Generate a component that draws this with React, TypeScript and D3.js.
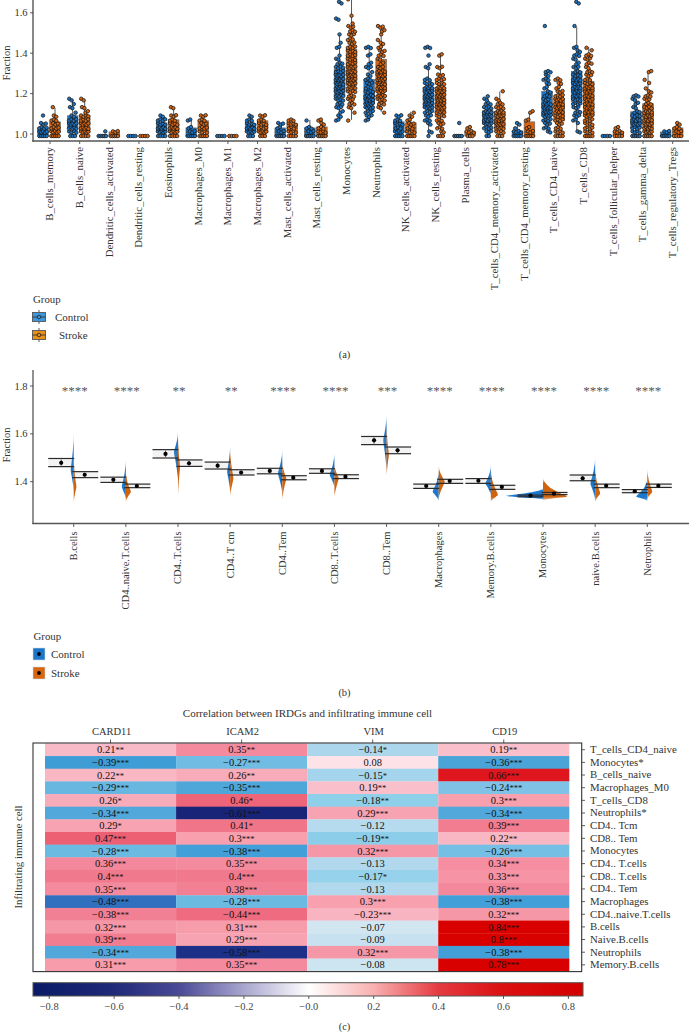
import React from "react";
import * as d3 from "d3";

const FONT = "'Liberation Serif', serif";
const INK = "#333";

// ---------- panel (a) ----------
const cellTypesA = ["B_cells_memory","B_cells_naive","Dendritic_cells_activated","Dendritic_cells_resting","Eosinophils","Macrophages_M0","Macrophages_M1","Macrophages_M2","Mast_cells_activated","Mast_cells_resting","Monocytes","Neutrophils","NK_cells_activated","NK_cells_resting","Plasma_cells","T_cells_CD4_memory_activated","T_cells_CD4_memory_resting","T_cells_CD4_naive","T_cells_CD8","T_cells_follicular_helper","T_cells_gamma_delta","T_cells_regulatory_Tregs"];
const ticksA = [1.0, 1.2, 1.4, 1.6];
const binStart = 0.99;
const binStep = 0.02;
// number of samples seen in each 0.02-wide level, starting at 0.99
const controlCounts: number[][] = [
  [5,5,4,3,0,1],
  [3,4,5,5,4,2,1,2,1,2],
  [5,1],
  [4],
  [4,5,5,4,4,2],
  [5,3,2,0,2],
  [4],
  [3,5,5,4,3,2],
  [5,3,2,3],
  [5,3,3,0,1],
  [0,0,0,0,2,2,2,3,3,4,5,5,6,6,6,5,4,4,3,2,1,0,2,1,0,1,0,0,0,2,0,0,0,2],
  [0,0,0,0,2,3,4,5,6,6,5,4,3,3,3,2,1,3,2,0,2,0,3],
  [5,5,3,4,3,3],
  [1,2,0,2,3,3,4,5,6,6,6,5,5,4,3,0,0,2,1,0,1,0,3],
  [5,0,0,1],
  [2,3,4,5,5,6,5,4,3,2,1],
  [5,4,1,2],
  [0,2,3,3,4,5,6,6,5,3,3,2,2,2,3,2,3,0,0,0,0,0,0,0,0,0,0,1],
  [0,2,0,1,2,3,3,3,4,4,5,5,5,5,5,4,3,3,2,2,3,2,2,0,0,0,0,1,0,0,0,0,0,2],
  [4],
  [5,4,4,5,5,4,3,2,2,2,3],
  [5,3],
];
const strokeCounts: number[][] = [
  [5,5,4,3,3,2,0,1],
  [4,5,5,5,4,4,2,2,0,2],
  [5,3],
  [4],
  [4,5,5,4,3,3,0,2],
  [5,4,4,3,3,3],
  [4],
  [3,5,4,4,3,3],
  [4,4,3,4,3],
  [5,4,3,2,2],
  [0,0,0,0,1,0,1,2,3,3,3,4,5,5,6,6,5,5,4,4,4,4,4,3,3,3,3,3,1,0,1,0,0,0,1],
  [0,0,0,0,0,0,1,2,3,4,5,5,5,6,6,5,5,3,2,2,3,3,2,2,1,1,2,3],
  [5,4,3,3,2,2,1],
  [3,2,3,3,3,4,5,5,6,6,6,5,5,4,4,3,0,3,0,0,2],
  [3,4,2],
  [3,4,5,6,6,5,5,4,3,2,0,1],
  [5,3,2,0,2,0,2],
  [4,4,3,3,4,4,5,5,5,5,4,3,2,2,3],
  [5,4,4,4,4,5,5,5,5,5,5,5,5,4,3,3,3,2,3,3,3,1,1],
  [4,4,2],
  [5,5,5,5,5,5,5,4,3,3,3,2,1,1,1,0,2],
  [4,3,3,2],
];

// ---------- panel (b) ----------
const cellTypesB = ["B.cells","CD4..naive.T.cells","CD4..T.cells","CD4..T cm","CD4..Tem","CD8..T.cells","CD8..Tem","Macrophages","Memory.B.cells","Monocytes","naive.B.cells","Netrophils"];
const signif = ["****","****","**","**","****","****","***","****","****","****","****","****"];
const ticksB = [1.4, 1.6, 1.8];
const ctlHi = [1.497,1.419,1.534,1.482,1.456,1.454,1.589,1.390,1.413,1.344,1.428,1.367];
const ctlLo = [1.463,1.397,1.499,1.453,1.433,1.435,1.555,1.372,1.393,1.337,1.404,1.354];
const ctlMean = [1.479,1.408,1.516,1.467,1.445,1.445,1.573,1.382,1.404,1.342,1.414,1.360];
const strHi = [1.442,1.390,1.491,1.450,1.425,1.429,1.545,1.410,1.385,1.355,1.390,1.390];
const strLo = [1.417,1.375,1.464,1.428,1.408,1.413,1.517,1.393,1.368,1.346,1.375,1.376];
const strMean = [1.429,1.382,1.477,1.438,1.417,1.421,1.531,1.403,1.378,1.350,1.383,1.383];
const ctlTop = [1.605,1.493,1.613,1.553,1.535,1.521,1.686,1.446,1.470,1.372,1.502,1.410];
const ctlPeak = [1.449,1.379,1.525,1.442,1.435,1.428,1.574,1.358,1.393,1.340,1.393,1.337];
const ctlBottom = [1.358,1.326,1.407,1.358,1.351,1.376,1.442,1.319,1.344,1.326,1.323,1.319];
const ctlDensity = [3,4,4,3,4.3,4.7,3.3,6,5.3,38,4.7,11];
const strTop = [1.504,1.442,1.595,1.543,1.486,1.477,1.644,1.470,1.449,1.413,1.456,1.453];
const strPeak = [1.379,1.358,1.463,1.414,1.414,1.414,1.511,1.400,1.344,1.337,1.351,1.358];
const strBottom = [1.312,1.316,1.340,1.337,1.326,1.337,1.424,1.330,1.316,1.323,1.316,1.326];
const strDensity = [2.7,5,2,3.3,4,4.3,2.3,6,7,24,5,5];

// ---------- panel (c) ----------
const genes = ["CARD11","ICAM2","VIM","CD19"];
const rowLabels = ["T_cells_CD4_naive","Monocytes*","B_cells_naive","Macrophages_M0","T_cells_CD8","Neutrophils*","CD4.. Tcm","CD8.. Tem","Monocytes","CD4.. T.cells","CD8.. T.cells","CD4.. Tem","Macrophages","CD4..naive.T.cells","B.cells","Naive.B.cells","Neutrophils","Memory.B.cells"];
const card11 = [0.21,-0.39,0.22,-0.29,0.26,-0.34,0.29,0.47,-0.28,0.36,0.4,0.35,-0.48,-0.38,0.32,0.39,-0.34,0.31];
const icam2 = [0.35,-0.27,0.26,-0.35,0.46,-0.61,0.41,0.3,-0.38,0.35,0.4,0.38,-0.28,-0.44,0.31,0.29,-0.58,0.35];
const vim = [-0.14,0.08,-0.15,0.19,-0.18,0.29,-0.12,-0.19,0.32,-0.13,-0.17,-0.13,0.3,-0.23,-0.07,-0.09,0.32,-0.08];
const cd19 = [0.19,-0.36,0.66,-0.24,0.3,-0.34,0.39,0.22,-0.26,0.34,0.33,0.36,-0.38,0.32,0.84,0.8,-0.38,0.78];
const card11Stars = ["**","***","**","***","*","***","*","***","***","***","***","***","***","***","***","***","***","***"];
const icam2Stars = ["**","***","**","***","*","***","*","***","***","***","***","***","***","***","***","***","***","***"];
const vimStars = ["*","","*","**","**","***","","**","***","","*","","***","***","","","***",""];
const cd19Stars = ["**","***","***","***","***","***","***","**","***","***","***","***","***","***","***","***","***","***"];
// rows whose printed negative value is nevertheless painted in the positive colours
const pinkRows = [13];
const cellDomain = [-0.61,-0.58,-0.48,-0.39,-0.34,-0.28,-0.24,-0.18,-0.14,-0.07,0,0.08,0.19,0.3,0.35,0.46,0.66,0.78,0.84];
const cellRange = ["#182478","#1c3088","#3070bf","#3f9dd6","#52a8da","#6bbae2","#7fc2e6","#8ed0ea","#acd6ec","#d2e6f2","#f4f4f6","#fde3e8","#f9c0cc","#f8a0ae","#f48a9e","#ee6478","#e0161e","#d90000","#d90000"];
const barDomain = [-0.85,-0.6,-0.4,-0.2,0,0.2,0.4,0.6,0.85];
const barRange = ["#0a1a66","#1f2a78","#4a4a96","#a9a6cf","#ffffff","#f8b0b0","#e43a40","#db1010","#d40000"];
const barTicks = [-0.8,-0.6,-0.4,-0.2,0,0.2,0.4,0.6,0.8];

const BLUE = "#1b76c9";
const ORANGE = "#d9660f";
const V_BLUE = "#1b78cc";
const V_ORANGE = "#cf6410";

const fmt = (v: number) => (v < 0 ? "\u2212" : "") + String(Math.abs(v));

function Txt(p: any) {
  return <text fontFamily={FONT} fontSize={10.5} fill={INK} {...p} />;
}

const rowShift = [0, 0.8, -0.6, 0.3, -0.9];
function Swarm({ counts, cx, color, y }: any) {
  const values: number[] = [];
  counts.forEach((c: number, i: number) => { for (let k = 0; k < c; k++) values.push(binStart + i * binStep); });
  values.sort(d3.ascending);
  const q1 = d3.quantile(values, 0.25)!, q3 = d3.quantile(values, 0.75)!, med = d3.quantile(values, 0.5)!;
  const iqr = q3 - q1;
  const inside = values.filter(v => v >= q1 - 1.5 * iqr && v <= q3 + 1.5 * iqr);
  const lo = d3.min(inside)!, hi = d3.max(inside)!;
  const dots: { x: number; y: number }[] = [];
  counts.forEach((c: number, i: number) => {
    const step = c > 1 ? Math.min(2.4, 7.4 / (c - 1)) : 0;
    const room = (7.4 - (c - 1) * step) / 2;
    const shift = rowShift[i % 5] * room;
    for (let k = 0; k < c; k++) {
      const wobble = i > 0 ? [0.9, -0.6, 0.4, -0.9, 0.7, -0.3][(k + i) % 6] : 0;
      dots.push({ x: cx + shift + (k - (c - 1) / 2) * step, y: y(binStart + i * binStep) + wobble });
    }
  });
  return (
    <g>
      <line x1={cx} x2={cx} y1={y(lo)} y2={y(hi)} stroke="#444" strokeWidth={0.9} />
      <rect x={cx - 5.3} width={10.6} y={y(q3)} height={y(q1) - y(q3)} fill={color} stroke="#666" strokeWidth={0.7} />
      <line x1={cx - 5.3} x2={cx + 5.3} y1={y(med)} y2={y(med)} stroke="#333" strokeWidth={0.9} />
      {dots.map((d, i) => <circle key={i} cx={d.x} cy={d.y} r={1.75} fill={color} stroke="#1a1a1a" strokeWidth={0.8} />)}
    </g>
  );
}

function Violin({ cx, side, top, peak, bottom, density, color, y }: any) {
  const pts: [number, number][] = [
    [top, 0],
    [top + (peak - top) * 0.5, density * 0.3],
    [top + (peak - top) * 0.8, density * 0.72],
    [peak, density],
    [peak + (bottom - peak) * 0.25, density * 0.72],
    [peak + (bottom - peak) * 0.6, density * 0.3],
    [bottom, 0],
  ];
  const area = d3.area<[number, number]>()
    .y(d => y(d[0]))
    .x0(cx)
    .x1(d => cx + side * d[1])
    .curve(d3.curveMonotoneY);
  return <path d={area(pts) || ""} fill={color} />;
}

function CrossBar({ x0, x1, cxDot, hi, lo, mean, y }: any) {
  return (
    <g stroke="#2b2b2b">
      <rect x={x0} width={x1 - x0} y={y(hi)} height={y(lo) - y(hi)} fill="#999" fillOpacity={0.12} stroke="none" />
      <line x1={x0} x2={x1} y1={y(hi)} y2={y(hi)} strokeWidth={1.2} />
      <line x1={x0} x2={x1} y1={y(lo)} y2={y(lo)} strokeWidth={1.2} />
      <line x1={cxDot} x2={cxDot} y1={y(hi) + 1} y2={y(lo) - 1} strokeWidth={0.8} />
      <circle cx={cxDot} cy={y(mean)} r={2.1} fill="#000" stroke="none" />
    </g>
  );
}

export default function App() {
  // panel a scales
  const xA = d3.scaleBand<string>().domain(cellTypesA).range([35.2, 687.5]);
  const yA = d3.scaleLinear().domain([1, 1.6]).range([134, 12.8]);
  // panel b scales
  const xB = d3.scalePoint<string>().domain(cellTypesB).range([73.7, 647.3]);
  const yB = d3.scaleLinear().domain([1.4, 1.8]).range([481.7, 386]);
  // panel c scales
  const xC = d3.scaleBand<string>().domain(genes).range([45, 569.3]);
  const yC = d3.scaleBand<string>().domain(rowLabels).range([743.4, 971.2]);
  const cellColor = d3.scaleLinear<string>().domain(cellDomain).range(cellRange);
  const barX = d3.scaleLinear().domain([-0.85, 0.845]).range([33, 583]);
  const matrix = [card11, icam2, vim, cd19];
  const stars = [card11Stars, icam2Stars, vimStars, cd19Stars];

  return (
    <svg width={689} height={1033} viewBox="0 0 689 1033" style={{ position: "absolute", left: 0, top: 0, display: "block", background: "#fff" }}>
      <defs>
        <linearGradient id="bar" x1="0" x2="1" y1="0" y2="0">
          {barDomain.map((d, i) => (
            <stop key={i} offset={(barX(d) - 33) / 550} stopColor={barRange[i]} />
          ))}
        </linearGradient>
        {[["fadeBlue", V_BLUE], ["fadeOrange", V_ORANGE]].map(([id, c]) => (
          <linearGradient key={id} id={id} x1="0" x2="0" y1="0" y2="1">
            <stop offset="0" stopColor={c} stopOpacity={0.15} />
            <stop offset="0.22" stopColor={c} stopOpacity={1} />
            <stop offset="0.85" stopColor={c} stopOpacity={1} />
            <stop offset="1" stopColor={c} stopOpacity={0.35} />
          </linearGradient>
        ))}
      </defs>

      {/* ---------- (a) ---------- */}
      <g>
        {cellTypesA.map((c, i) => {
          const cx = xA(c)! + xA.bandwidth() / 2;
          return (
            <g key={c}>
              <Swarm counts={controlCounts[i]} cx={cx - 7} color={BLUE} y={yA} />
              <Swarm counts={strokeCounts[i]} cx={cx + 5} color={ORANGE} y={yA} />
              <line x1={cx} x2={cx} y1={141} y2={144} stroke={INK} strokeWidth={0.8} />
              <Txt transform={`translate(${cx + 3.4},147) rotate(-90)`} textAnchor="end" fontSize={10.8}>{c}</Txt>
            </g>
          );
        })}
        <line x1={33} x2={33} y1={0} y2={141.7} stroke="#555" strokeWidth={1.4} />
        <line x1={32.3} x2={689} y1={141} y2={141} stroke="#555" strokeWidth={1.4} />
        {ticksA.map(t => (
          <g key={t}>
            <line x1={30} x2={33} y1={yA(t)} y2={yA(t)} stroke={INK} strokeWidth={0.8} />
            <Txt x={27.5} y={yA(t) + 3.5} textAnchor="end">{t.toFixed(1)}</Txt>
          </g>
        ))}
        <Txt transform="translate(9.5,63) rotate(-90)" textAnchor="middle">Fraction</Txt>
      </g>

      {/* legend a */}
      <g>
        <Txt x={33} y={302.5} fontSize={10.8}>Group</Txt>
        {[{ t: "Control", y: 317, c: "#3d97dc", x: 55 }, { t: "Stroke", y: 335, c: "#e8901c", x: 59 }].map(k => (
          <g key={k.t}>
            <line x1={39} x2={39} y1={k.y - 7} y2={k.y + 7} stroke="#444" strokeWidth={0.9} />
            <rect x={32.5} y={k.y - 4.5} width={13} height={9} fill={k.c} stroke="#555" strokeWidth={0.9} />
            <line x1={32.5} x2={45.5} y1={k.y} y2={k.y} stroke="#333" strokeWidth={0.9} />
            <circle cx={39} cy={k.y} r={1.8} fill={k.c} stroke="#222" strokeWidth={0.8} />
            <Txt x={k.x} y={k.y + 3.5} fontSize={11}>{k.t}</Txt>
          </g>
        ))}
      </g>
      <Txt x={344.5} y={358} textAnchor="middle">(a)</Txt>

      {/* ---------- (b) ---------- */}
      <g>
        {cellTypesB.map((c, i) => {
          const cx = xB(c)!;
          return (
            <g key={c}>
              <Violin cx={cx} side={-1} top={ctlTop[i]} peak={ctlPeak[i]} bottom={ctlBottom[i]} density={ctlDensity[i]} color="url(#fadeBlue)" y={yB} />
              <Violin cx={cx} side={1} top={strTop[i]} peak={strPeak[i]} bottom={strBottom[i]} density={strDensity[i]} color="url(#fadeOrange)" y={yB} />
              <CrossBar x0={cx - 25.5} x1={cx + 0.5} cxDot={cx - 12.5} hi={ctlHi[i]} lo={ctlLo[i]} mean={ctlMean[i]} y={yB} />
              <CrossBar x0={cx - 1.5} x1={cx + 24.5} cxDot={cx + 11} hi={strHi[i]} lo={strLo[i]} mean={strMean[i]} y={yB} />
              <Txt x={cx + 1} y={395} textAnchor="middle" fontSize={13} fill="#555">{signif[i]}</Txt>
              <line x1={cx} x2={cx} y1={523.5} y2={527} stroke={INK} strokeWidth={0.8} />
              <Txt transform={`translate(${cx + 3.4},531.5) rotate(-90)`} textAnchor="end">{c}</Txt>
            </g>
          );
        })}
        <line x1={33} x2={33} y1={370} y2={524} stroke="#555" strokeWidth={1.3} />
        <line x1={32.3} x2={689} y1={523.5} y2={523.5} stroke="#555" strokeWidth={1.3} />
        {ticksB.map(t => (
          <g key={t}>
            <line x1={30} x2={33} y1={yB(t)} y2={yB(t)} stroke={INK} strokeWidth={0.8} />
            <Txt x={27.5} y={yB(t) + 3.5} textAnchor="end">{t.toFixed(1)}</Txt>
          </g>
        ))}
        <Txt transform="translate(9.5,445) rotate(-90)" textAnchor="middle">Fraction</Txt>
      </g>

      {/* legend b */}
      <g>
        <Txt x={33.5} y={639.5} fontSize={10.8}>Group</Txt>
        {[{ t: "Control", y: 654, c: BLUE }, { t: "Stroke", y: 673, c: ORANGE }].map(k => (
          <g key={k.t}>
            <rect x={33} y={k.y - 6} width={12} height={12} fill={k.c} stroke="#cfd8e0" strokeWidth={0.6} />
            <circle cx={39} cy={k.y} r={1.9} fill="#000" />
            <Txt x={51} y={k.y + 3.5} fontSize={11}>{k.t}</Txt>
          </g>
        ))}
      </g>
      <Txt x={344.5} y={696} textAnchor="middle">(b)</Txt>

      {/* ---------- (c) ---------- */}
      <g>
        <Txt x={307.5} y={717} textAnchor="middle" fontSize={11}>Correlation between IRDGs and infiltrating immune cell</Txt>
        {genes.map((g, j) => {
          const cx = xC(g)! + xC.bandwidth() / 2;
          return (
            <g key={g}>
              <Txt x={cx + 1} y={734.5} textAnchor="middle">{g}</Txt>
              <line x1={cx} x2={cx} y1={739.5} y2={743} stroke={INK} strokeWidth={0.8} />
              {rowLabels.map((r, i) => {
                const v = matrix[j][i];
                const paint = pinkRows.includes(i) ? Math.abs(v) : v;
                return (
                  <g key={r}>
                    <rect x={xC(g)!} y={yC(r)!} width={xC.bandwidth()} height={yC.bandwidth() + 0.3} fill={cellColor(paint)} />
                    <Txt x={cx} y={yC(r)! + yC.bandwidth() / 2 + 3.6} textAnchor="middle" fill="#111">
                      {fmt(v)}<tspan fontSize={8.5}>{stars[j][i]}</tspan>
                    </Txt>
                  </g>
                );
              })}
            </g>
          );
        })}
        <rect x={33} y={743} width={548.7} height={228.6} fill="none" stroke="#333" strokeWidth={1.1} />
        {rowLabels.map(r => {
          const cy = yC(r)! + yC.bandwidth() / 2;
          return (
            <g key={r}>
              <line x1={581.7} x2={585} y1={cy} y2={cy} stroke={INK} strokeWidth={0.8} />
              <Txt x={590} y={cy + 3.4} fontSize={10.85}>{r}</Txt>
            </g>
          );
        })}
        <Txt transform="translate(22,857) rotate(-90)" textAnchor="middle" fontSize={10.8}>Infiltrating immune cell</Txt>

        <rect x={33} y={982.7} width={550} height={13.3} fill="url(#bar)" stroke="#555" strokeWidth={1} />
        {barTicks.map(t => (
          <g key={t}>
            <line x1={barX(t)} x2={barX(t)} y1={996} y2={999} stroke={INK} strokeWidth={0.8} />
            <Txt x={barX(t)} y={1010} textAnchor="middle" fill="#444">{t < 0 ? "\u2212" + Math.abs(t).toFixed(1) : t === 0 ? "\u22120.0" : t.toFixed(1)}</Txt>
          </g>
        ))}
      </g>
      <Txt x={344.5} y={1030} textAnchor="middle">(c)</Txt>
    </svg>
  );
}
